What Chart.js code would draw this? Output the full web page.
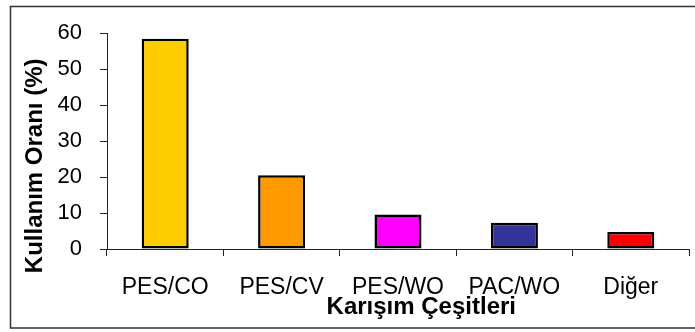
<!DOCTYPE html>
<html>
<head>
<meta charset="utf-8">
<script src="https://cdn.jsdelivr.net/npm/chart.js@4/dist/chart.umd.min.js"></script>
<style>
  html, body { margin: 0; padding: 0; background: #ffffff; }
  canvas { display: block; }
</style>
</head>
<body>
<canvas id="c" width="695" height="332"></canvas>
<script>
// Blend types and their share of use (%)
const categories = ['PES/CO', 'PES/CV', 'PES/WO', 'PAC/WO', 'Diğer'];
const usageShare = [58.4, 20.5, 9.6, 7.3, 4.7];
const barColors = ['#FFCC00', '#FF9900', '#FF00FF', '#333399', '#FF0000'];
const yTickValues = [0, 10, 20, 30, 40, 50, 60];
const xAxisTitle = 'Karışım Çeşitleri';
const yAxisTitle = 'Kullanım Oranı (%)';

const FONT = '"Liberation Sans", Arial, sans-serif';

// Outer frame plus the two axis titles, placed relative to the chart area
const decorations = {
  id: 'decorations',
  beforeDraw(chart) {
    const ctx = chart.ctx;
    ctx.save();
    ctx.fillStyle = '#ffffff';
    ctx.fillRect(0, 0, chart.width, chart.height);
    ctx.strokeStyle = '#333333';
    ctx.lineWidth = 1.5;
    ctx.strokeRect(10.5, 6.5, chart.width + 10, chart.height - 4 - 6.5);
    ctx.restore();
  },
  afterDraw(chart) {
    const ctx = chart.ctx;
    const a = chart.chartArea;
    ctx.save();
    ctx.fillStyle = '#000000';
    ctx.font = 'bold 24px ' + FONT;
    ctx.textAlign = 'center';
    ctx.textBaseline = 'alphabetic';
    ctx.fillText(xAxisTitle, a.left + (a.right - a.left) * 0.54, a.bottom + 65);
    ctx.translate(a.left - 72, a.top + (a.bottom - a.top) * 0.615);
    ctx.rotate(-Math.PI / 2);
    ctx.textBaseline = 'middle';
    ctx.fillText(yAxisTitle, 0, 0);
    ctx.restore();
  }
};

new Chart(document.getElementById('c'), {
  type: 'bar',
  data: {
    labels: categories,
    datasets: [{
      data: usageShare,
      backgroundColor: barColors,
      borderColor: '#000000',
      borderWidth: 2.5,
      borderSkipped: false,
      categoryPercentage: 1.0,
      barPercentage: 0.404
    }]
  },
  options: {
    responsive: false,
    animation: false,
    devicePixelRatio: 1,
    layout: { padding: { top: 33, right: 6, left: 0, bottom: 0 } },
    plugins: {
      legend: { display: false },
      tooltip: { enabled: false },
      title: { display: false }
    },
    scales: {
      x: {
        grid: {
          display: true,
          drawOnChartArea: false,
          drawTicks: true,
          tickLength: 7,
          color: '#222222',
          offset: true
        },
        border: { display: true, color: '#222222', width: 1 },
        ticks: {
          color: '#000000',
          font: { family: FONT, size: 23 },
          padding: 18,
          maxRotation: 0,
          autoSkip: false
        },
        afterFit(scale) { scale.height = 83; }
      },
      y: {
        min: 0,
        max: 60,
        afterBuildTicks(scale) {
          scale.ticks = yTickValues.map(v => ({ value: v }));
        },
        grid: {
          display: true,
          drawOnChartArea: false,
          drawTicks: true,
          tickLength: 7,
          color: '#222222'
        },
        border: { display: true, color: '#222222', width: 1 },
        ticks: {
          color: '#000000',
          font: { family: FONT, size: 22 },
          padding: 18
        },
        afterFit(scale) { scale.width = 107; }
      }
    }
  },
  plugins: [decorations]
});
</script>
</body>
</html>
